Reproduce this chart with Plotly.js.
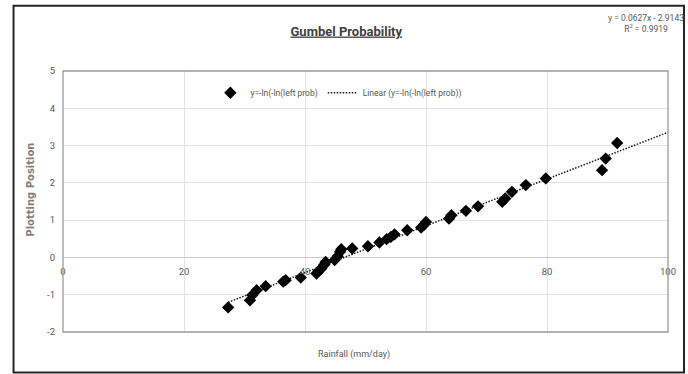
<!DOCTYPE html>
<html>
<head>
<meta charset="utf-8">
<script src="https://cdn.plot.ly/plotly-3.0.1.min.js"></script>
<style>html,body{margin:0;padding:0;background:#fff;}#chart{width:688px;height:374px;}</style>
</head>
<body>
<div id="chart"></div>
<script>
// Data
const rainfall = [27.3, 30.9, 31.3, 32.0, 33.5, 36.4, 36.8, 39.3, 41.9, 42.3, 42.7, 43.2, 43.4, 44.9, 45.4, 45.8, 46.0, 47.8, 50.4, 52.3, 53.5, 54.2, 54.8, 56.9, 59.2, 59.7, 60.0, 63.8, 64.2, 66.6, 68.6, 72.6, 73.1, 74.2, 76.5, 79.8, 89.1, 89.7, 91.6];
const plottingPosition = [-1.34, -1.15, -1.01, -0.88, -0.77, -0.65, -0.61, -0.54, -0.43, -0.36, -0.30, -0.19, -0.12, -0.07, 0.03, 0.15, 0.22, 0.24, 0.30, 0.40, 0.49, 0.55, 0.62, 0.73, 0.80, 0.88, 0.95, 1.04, 1.13, 1.25, 1.37, 1.49, 1.58, 1.76, 1.94, 2.12, 2.34, 2.65, 3.07];
const trendSlope = 0.0627;
const trendIntercept = -2.9143;
const trendX = [27.3, 100];
const xTicks = [0, 20, 40, 60, 80, 100];
const yTicks = [-2, -1, 0, 1, 2, 3, 4, 5];
const seriesName = 'y=-ln(-ln(left prob)';
const trendName = 'Linear (y=-ln(-ln(left prob))';
const chartTitle = 'Gumbel Probability';
const xTitle = 'Rainfall (mm/day)';
const yTitle = 'Plotting Position';
const eqText = 'y = 0.0627x - 2.9143<br>R<sup>2</sup> = 0.9919';

const trendY = trendX.map(x => trendSlope * x + trendIntercept);
const FONT = 'Roboto, Liberation Sans, sans-serif';
const GREY = '#595959';

const W = 688, H = 374, L = 62.5, R = 20, T = 70.7, B = 42;
const pw = W - L - R, ph = H - T - B;
const px = v => (v - L) / pw;
const py = v => (H - B - v) / ph;

const traces = [
  {
    x: rainfall, y: plottingPosition, type: 'scatter', mode: 'markers', name: seriesName,
    marker: {symbol: 'diamond', size: 9.5, color: '#000000'}
  },
  {
    x: trendX, y: trendY, type: 'scatter', mode: 'lines', name: trendName,
    line: {color: '#1a1a1a', width: 1.5, dash: '1.5px,1.5px'}
  }
];

const layout = {
  width: W, height: H,
  margin: {l: L, r: R, t: T, b: B, pad: 0},
  paper_bgcolor: '#ffffff', plot_bgcolor: '#ffffff',
  font: {family: FONT, color: GREY, size: 9},
  showlegend: true,
  legend: {
    orientation: 'h', x: px(210), y: py(78), xanchor: 'left', yanchor: 'top',
    font: {family: FONT, size: 8.5, color: GREY}, bgcolor: 'rgba(0,0,0,0)',
    itemwidth: 30, tracegroupgap: 0
  },
  title: {
    text: '<u>' + chartTitle + '</u>',
    font: {family: FONT, size: 13, color: '#404040', weight: 'bold'},
    x: px(346), xref: 'paper', xanchor: 'center',
    y: 1 - 31 / H, yref: 'container', yanchor: 'middle'
  },
  xaxis: {
    range: [0, 100], tickvals: xTicks, ticktext: xTicks.map(String),
    showgrid: true, gridcolor: '#e3e3e3', gridwidth: 1,
    zeroline: false, showline: false, ticks: '',
    anchor: 'free', position: 2 / 7, ticklabelstandoff: 7,
    tickfont: {family: FONT, size: 9.5, color: GREY},
    fixedrange: true
  },
  yaxis: {
    range: [-2, 5], tickvals: yTicks, ticktext: yTicks.map(String),
    showgrid: true, gridcolor: '#e3e3e3', gridwidth: 1,
    zeroline: true, zerolinecolor: '#c8c8c8', zerolinewidth: 1.2,
    showline: false, ticks: '', ticklabelstandoff: 7,
    tickfont: {family: FONT, size: 9.5, color: GREY},
    fixedrange: true
  },
  annotations: [
    {text: eqText, xref: 'paper', yref: 'paper', x: px(646), y: py(23), xanchor: 'center', yanchor: 'middle',
     showarrow: false, align: 'center', font: {family: FONT, size: 8.5, color: GREY}},
    {text: xTitle, xref: 'paper', yref: 'paper', x: px(354), y: py(355), xanchor: 'center', yanchor: 'middle',
     showarrow: false, font: {family: FONT, size: 9, color: GREY}},
    {text: yTitle, xref: 'paper', yref: 'paper', x: px(30), y: py(190), xanchor: 'center', yanchor: 'middle',
     textangle: -90, showarrow: false, font: {family: 'DejaVu Sans, sans-serif', size: 10, color: '#7f7f7f', weight: 'bold'}}
  ],
  shapes: [
    {type: 'rect', xref: 'paper', yref: 'paper', x0: 0, x1: 1, y0: 0, y1: 1,
     line: {color: '#9a9a9a', width: 1.3}, layer: 'above'},
    {type: 'rect', xref: 'paper', yref: 'paper', x0: px(13), x1: px(684), y0: py(372.5), y1: py(5.5),
     line: {color: '#262626', width: 2}, layer: 'above'}
  ]
};

Plotly.newPlot('chart', traces, layout, {staticPlot: true, displayModeBar: false});
</script>
</body>
</html>
